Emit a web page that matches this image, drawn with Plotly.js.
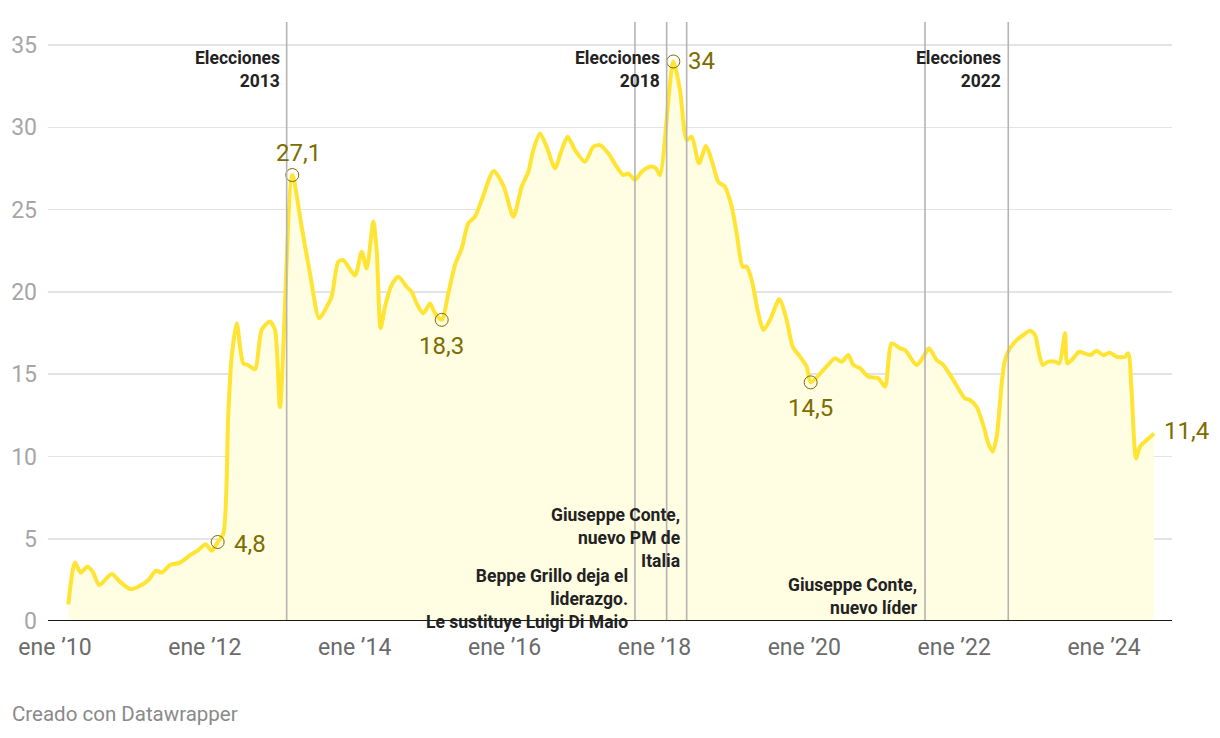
<!DOCTYPE html>
<html>
<head>
<meta charset="utf-8">
<script src="https://cdn.plot.ly/plotly-3.0.1.min.js"></script>
<style>
  html, body { margin: 0; padding: 0; background: #fff; }
  #chart { width: 1220px; height: 738px; }
</style>
</head>
<body>
<div id="chart"></div>
<script>
// Decimal-year positions and poll values (%)
const years = [
  2010.178, 2010.267, 2010.343, 2010.431, 2010.503, 2010.591, 2010.757, 2010.867,
  2011.010, 2011.178, 2011.259, 2011.348, 2011.424, 2011.535, 2011.668, 2011.802, 2011.912,
  2012.011, 2012.091, 2012.171, 2012.246, 2012.313, 2012.358, 2012.425, 2012.513, 2012.580,
  2012.669, 2012.759, 2012.869, 2012.936, 2013.003, 2013.167, 2013.292, 2013.403, 2013.527,
  2013.626, 2013.692, 2013.781, 2013.848, 2014.004, 2014.093, 2014.160, 2014.248, 2014.293,
  2014.346, 2014.404, 2014.493, 2014.582, 2014.694, 2014.760, 2014.827, 2014.915, 2015.005,
  2015.071, 2015.161, 2015.249, 2015.338, 2015.428, 2015.516, 2015.605, 2015.695, 2015.855,
  2015.990, 2016.117, 2016.228, 2016.317, 2016.383, 2016.473, 2016.562, 2016.673, 2016.762,
  2016.842, 2016.940, 2017.073, 2017.184, 2017.273, 2017.384, 2017.496, 2017.585, 2017.651,
  2017.740, 2017.830, 2017.941, 2018.021, 2018.074, 2018.252, 2018.341, 2018.431, 2018.497,
  2018.595, 2018.688, 2018.764, 2018.852, 2018.941, 2019.031, 2019.098, 2019.178, 2019.231,
  2019.298, 2019.386, 2019.453, 2019.542, 2019.666, 2019.765, 2019.845, 2019.942, 2020.032,
  2020.085, 2020.276, 2020.410, 2020.499, 2020.588, 2020.654, 2020.744, 2020.854, 2020.988,
  2021.077, 2021.166, 2021.277, 2021.344, 2021.500, 2021.588, 2021.664, 2021.767, 2021.855,
  2021.989, 2022.145, 2022.211, 2022.300, 2022.388, 2022.455, 2022.514, 2022.567, 2022.634,
  2022.678, 2022.745, 2022.834, 2022.922, 2023.012, 2023.079, 2023.123, 2023.182, 2023.256,
  2023.346, 2023.403, 2023.479, 2023.510, 2023.569, 2023.670, 2023.813, 2023.902, 2023.991,
  2024.080, 2024.169, 2024.280, 2024.324, 2024.369, 2024.427, 2024.480, 2024.570, 2024.667
];
const values = [
  1.0, 3.55, 2.94, 3.3, 3.0, 2.19, 2.86, 2.39,
  1.94, 2.25, 2.55, 3.06, 2.94, 3.4, 3.55, 4.0, 4.31,
  4.66, 4.27, 4.8, 5.3, 12.6, 16.06, 18.1, 15.66, 15.55,
  15.3, 17.7, 18.2, 17.7, 13.0, 27.1, 23.96, 21.13, 18.39,
  19.1, 19.7, 21.83, 21.93, 21.0, 22.44, 21.43, 24.26, 22.54,
  17.79, 19.1, 20.42, 20.92, 20.31, 20.0, 19.3, 18.7, 19.3,
  18.7, 18.3, 19.9, 21.63, 22.65, 24.17, 24.57, 25.58, 27.35,
  26.4, 24.57, 26.39, 27.3, 28.62, 29.63, 28.82, 27.51, 28.62,
  29.43, 28.62, 27.91, 28.82, 28.92, 28.42, 27.61, 27.1, 27.2,
  26.8, 27.3, 27.61, 27.51, 27.1, 34.0, 32.27, 29.23, 29.43,
  27.81, 28.86, 28.01, 26.69, 26.39, 25.18, 23.56, 21.53, 21.53,
  20.72, 18.7, 17.68, 18.29, 19.55, 18.29, 16.67, 16.06, 15.45,
  14.5, 15.36, 15.96, 15.76, 16.16, 15.56, 15.36, 14.85, 14.75,
  14.24, 16.87, 16.57, 16.47, 15.56, 16.06, 16.57, 15.86, 15.56,
  14.64, 13.53, 13.43, 13.02, 11.91, 10.8, 10.29, 11.2, 14.44,
  15.86, 16.57, 17.07, 17.38, 17.64, 17.38, 16.47, 15.56, 15.76,
  15.76, 15.66, 17.48, 15.66, 15.86, 16.36, 16.16, 16.42, 16.16,
  16.3, 16.06, 16.06, 16.27, 13.83, 9.89, 10.6, 11.0, 11.4
];

// Highlighted points (circled) and value labels
const keyYears = [2012.171, 2013.167, 2015.161, 2018.252, 2020.085, 2024.667];
const keyValues = [4.8, 27.1, 18.3, 34, 14.5, 11.4];
const keyLabels = ["4,8", "27,1", "18,3", "34", "14,5", "11,4"];
const circledCount = 5; // the last label (11,4) has no circle

// Event markers
const eventYears = [2013.092, 2017.740, 2018.163, 2018.430, 2021.611, 2022.722];
const eventLabels = [
  "Elecciones<br>2013",
  "Beppe Grillo deja el<br>liderazgo.<br>Le sustituye Luigi Di Maio",
  "Elecciones<br>2018",
  "Giuseppe Conte,<br>nuevo PM de<br>Italia",
  "Giuseppe Conte,<br>nuevo líder",
  "Elecciones<br>2022"
];
const eventLabelY = [34.95, 3.45, 34.95, 7.15, 2.9, 34.95];

// Axis ticks
const xTickVals = [2010, 2012, 2014, 2016, 2018, 2020, 2022, 2024];
const xTickText = ["ene ’10", "ene ’12", "ene ’14", "ene ’16", "ene ’18", "ene ’20", "ene ’22", "ene ’24"];
const yTickVals = [0, 5, 10, 15, 20, 25, 30, 35];

const OLIVE = "#7d6c00";
const FONT = "Roboto, 'Noto Sans', sans-serif";

const traces = [
  {
    x: years, y: values, type: "scatter", mode: "lines",
    line: { color: "#ffe433", width: 4, shape: "spline", smoothing: 0.7 },
    fill: "tozeroy", fillcolor: "#fffde2",
    hoverinfo: "skip"
  },
  {
    x: keyYears.slice(0, circledCount), y: keyValues.slice(0, circledCount),
    type: "scatter", mode: "markers",
    marker: { symbol: "circle", size: 13, color: "rgba(255,255,255,0)", line: { color: OLIVE, width: 1 } },
    hoverinfo: "skip"
  }
];

const shapes = eventYears.map(x => ({
  type: "line", xref: "x", yref: "paper", x0: x, x1: x, y0: 0, y1: 1,
  line: { color: "#b4b4b4", width: 1.6 }, layer: "above"
}));
shapes.push({
  type: "line", xref: "paper", yref: "y", x0: 0, x1: 1, y0: 0, y1: 0,
  line: { color: "#1a1a1a", width: 2.2 }, layer: "above"
});

const annotations = [];
const keyPos = [
  { xanchor: "left", yanchor: "middle", xshift: 14, yshift: -2 },
  { xanchor: "center", yanchor: "bottom", xshift: 6, yshift: 6 },
  { xanchor: "center", yanchor: "top", xshift: 0, yshift: -10 },
  { xanchor: "left", yanchor: "middle", xshift: 13, yshift: 0 },
  { xanchor: "center", yanchor: "top", xshift: 0, yshift: -10 },
  { xanchor: "left", yanchor: "middle", xshift: 8, yshift: 2 }
];
keyYears.forEach((x, i) => {
  annotations.push(Object.assign({
    x: x, y: keyValues[i], xref: "x", yref: "y", text: keyLabels[i], showarrow: false,
    font: { family: FONT, size: 24, color: OLIVE }
  }, keyPos[i]));
});
eventYears.forEach((x, i) => {
  annotations.push({
    x: x, y: eventLabelY[i], xref: "x", yref: "y", text: eventLabels[i], showarrow: false,
    xanchor: "right", yanchor: "top", align: "right", xshift: -5,
    font: { family: FONT, size: 17.5, color: "#222222", weight: 700 }
  });
});
annotations.push({
  x: -38 / 1124, y: -(714 - 621) / 599, xref: "paper", yref: "paper",
  xanchor: "left", yanchor: "middle",
  text: "Creado con Datawrapper", showarrow: false,
  font: { family: FONT, size: 20.5, color: "#8a8a8a" }
});

const layout = {
  width: 1220, height: 738,
  margin: { l: 48, r: 48, t: 22, b: 117 },
  paper_bgcolor: "#ffffff", plot_bgcolor: "#ffffff",
  showlegend: false,
  font: { family: FONT },
  xaxis: {
    range: [2009.907, 2024.907], tickmode: "array", tickvals: xTickVals, ticktext: xTickText,
    showgrid: false, zeroline: false, showline: false, ticks: "",
    tickfont: { family: FONT, size: 23, color: "#6b6b6b" }, ticklabelstandoff: 10,
    fixedrange: true
  },
  yaxis: {
    range: [0, 36.4], tickmode: "array", tickvals: yTickVals,
    showgrid: true, gridcolor: "#e4e4e4", gridwidth: 1.6, zeroline: false, showline: false, ticks: "",
    tickfont: { family: FONT, size: 23, color: "#a6a6a6" }, ticklabelstandoff: 10,
    fixedrange: true
  },
  shapes: shapes,
  annotations: annotations
};

Plotly.newPlot("chart", traces, layout, { staticPlot: true, displayModeBar: false });
</script>
</body>
</html>
